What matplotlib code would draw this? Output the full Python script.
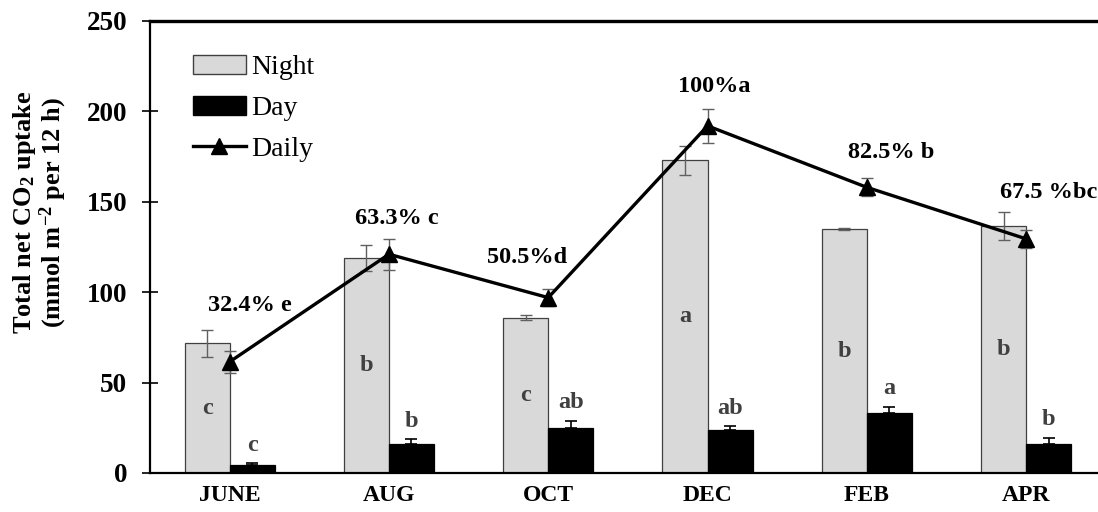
import numpy as np
import matplotlib
matplotlib.use('Agg')
import matplotlib.pyplot as plt
from matplotlib.lines import Line2D
from matplotlib.patches import Patch

# 数据
months = ['JUNE', 'AUG', 'OCT', 'DEC', 'FEB', 'APR']
night = [71.7, 119, 86, 173, 134.8, 136.6]
night_err = [7.5, 7.2, 1.3, 8, 0.5, 7.5]
day = [4.4, 16, 25.1, 24, 33, 16]
day_err = [1, 2.6, 3.7, 1.8, 3.5, 3.5]
daily = [61.5, 121, 97, 192, 158, 129.5]
daily_err = [6, 8.5, 4.6, 9.6, 5, 5]
night_letters = ['c', 'b', 'c', 'a', 'b', 'b']
day_letters = ['c', 'b', 'ab', 'ab', 'a', 'b']
pct_labels = ['32.4% e', '63.3% c', '50.5%d', '100%a', '82.5% b', '67.5 %bc']
pct_x = [0.13, 1.05, 1.87, 3.04, 4.15, 5.14]
pct_y = [92.4, 141, 119, 213.5, 177, 155]

plt.rcParams['font.family'] = ['Liberation Serif', 'DejaVu Serif']
plt.rcParams['mathtext.fontset'] = 'custom'
plt.rcParams['mathtext.rm'] = 'Liberation Serif'
plt.rcParams['mathtext.bf'] = 'Liberation Serif:bold'
plt.rcParams['mathtext.default'] = 'bf'

fig = plt.figure(figsize=(10.98, 5.12), dpi=100)
ax = fig.add_axes([150 / 1098, 39 / 512, 948 / 1098, 452 / 512])

x = np.arange(len(months))
w = 0.283

# 柱状图
ax.bar(x - w / 2, night, w, color='#d9d9d9', edgecolor='#404040', linewidth=0.9, zorder=2)
ax.bar(x + w / 2, day, w, color='black', edgecolor='black', linewidth=0.9, zorder=2)

# 误差棒
ax.errorbar(x - w / 2, night, yerr=night_err, fmt='none', ecolor='#606060',
            elinewidth=1, capsize=4.5, capthick=1, zorder=3)
ax.errorbar(x + w / 2, day, yerr=[np.zeros(len(day)), day_err], fmt='none',
            ecolor='black', elinewidth=1.2, capsize=4.5, capthick=1.2, zorder=3)
ax.errorbar(x, daily, yerr=daily_err, fmt='none', ecolor='#606060',
            elinewidth=1, capsize=4.5, capthick=1, zorder=3)

# 日总量折线
ax.plot(x, daily, color='black', lw=2.4, marker='^', markersize=12, zorder=4)

# 字母标注
for i in range(len(months)):
    ax.text(x[i] - w / 2, night[i] / 2, night_letters[i], ha='center', va='center',
            fontsize=17.5, fontweight='bold', color='#404040', zorder=5)
    ax.text(x[i] + w / 2, day[i] + day_err[i] + 10, day_letters[i], ha='center',
            va='center', fontsize=17.5, fontweight='bold', color='#404040', zorder=5)
    ax.text(pct_x[i], pct_y[i], pct_labels[i], ha='center', va='center',
            fontsize=17.5, fontweight='bold', color='black', zorder=5)

ax.set_xlim(-0.5, -0.5 + 948 / 159.3)
ax.set_ylim(0, 250)
ax.set_yticks(np.arange(0, 251, 50))
ax.set_xticks(x)
ax.set_xticklabels(months, fontsize=17, fontweight='bold')
ax.tick_params(axis='x', length=0, pad=8.5)
ax.tick_params(axis='y', direction='inout', length=11, width=1.2, pad=11,
               labelsize=19.5)
for lab in ax.get_yticklabels():
    lab.set_fontweight('bold')

ax.spines['right'].set_visible(False)
for s in ['left', 'bottom']:
    ax.spines[s].set_linewidth(1.6)
ax.spines['top'].set_linewidth(2.4)

ax.set_ylabel('Total net CO$_2$ uptake\n(mmol m$^{-2}$ per 12 h)', fontsize=19,
              fontweight='bold', linespacing=1.0)
ax.yaxis.set_label_coords(-0.0854, 0.577)

# 图例
handles = [Patch(facecolor='#d9d9d9', edgecolor='#404040'),
           Patch(facecolor='black', edgecolor='black'),
           Line2D([0], [0], color='black', lw=2.4, marker='^', markersize=12)]
ax.legend(handles, ['Night', 'Day', 'Daily'], loc='upper left',
          bbox_to_anchor=(43 / 948, 0.925), frameon=False, fontsize=20,
          handlelength=1.9, handletextpad=0.2, labelspacing=0.55,
          borderpad=0, borderaxespad=0)

fig.savefig('out.png', dpi=100)
